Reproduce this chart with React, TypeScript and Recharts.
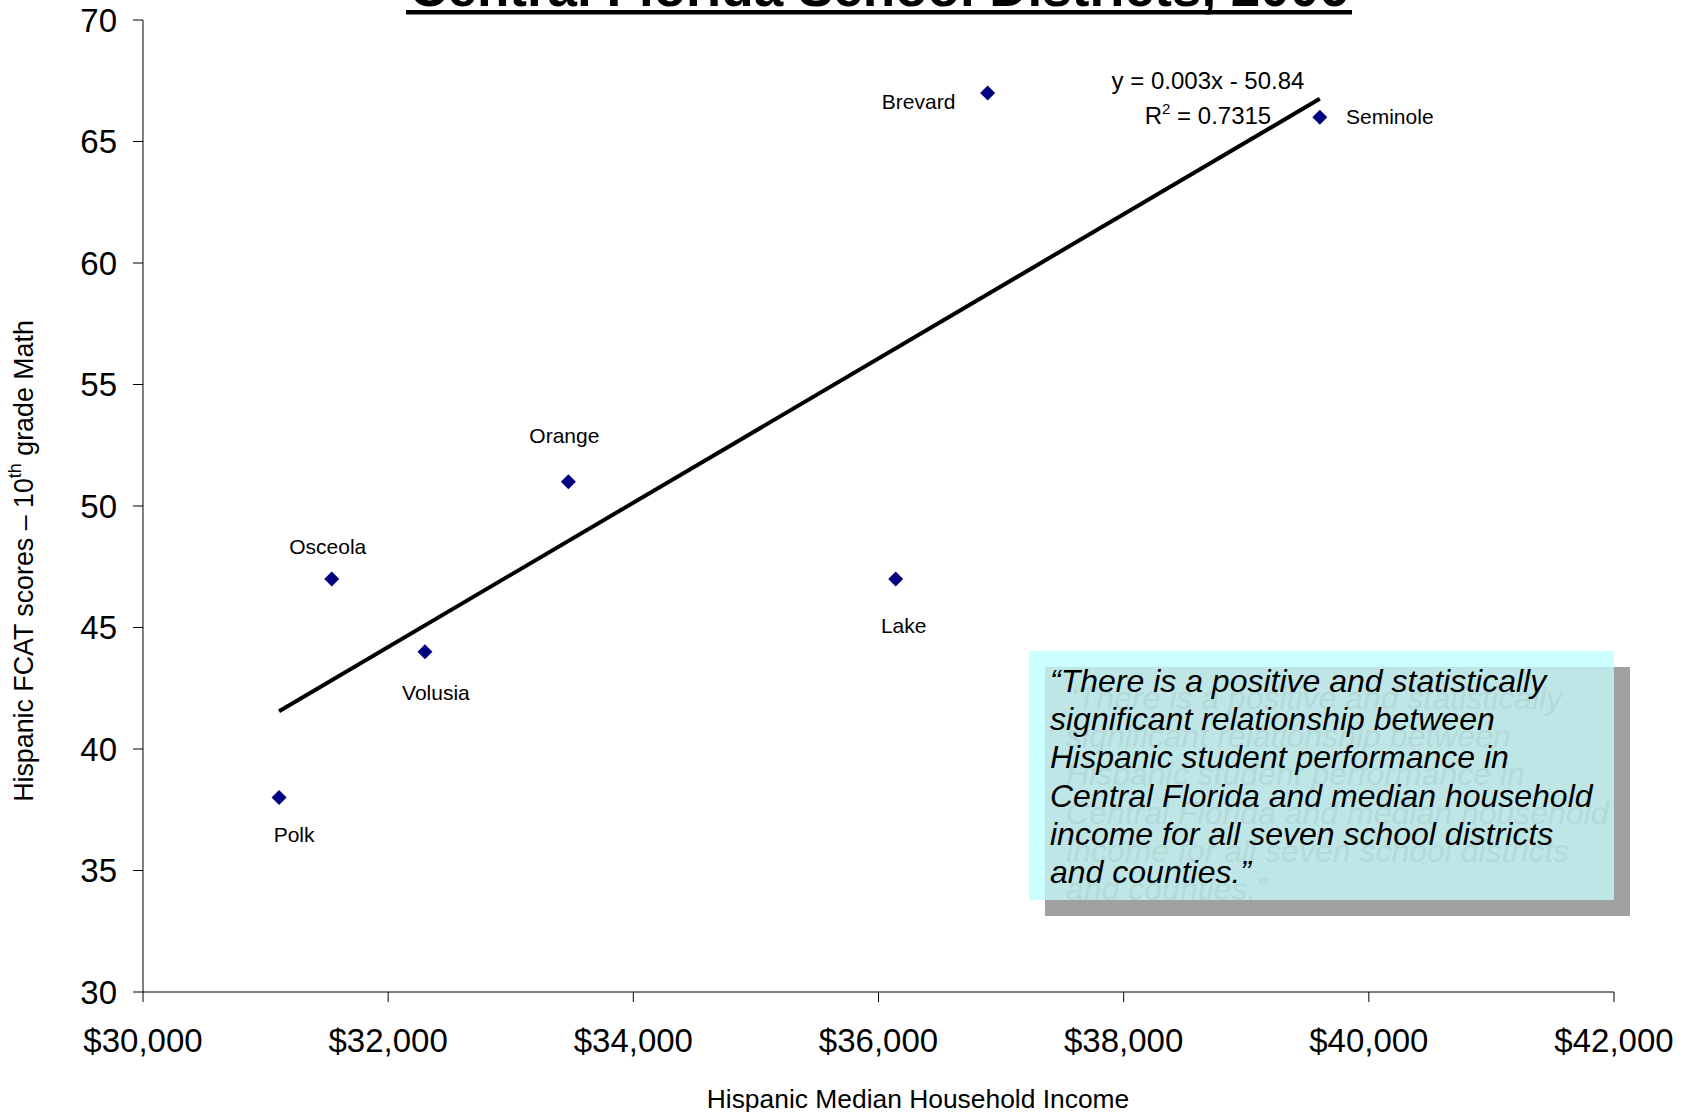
import React from "react";
import { ScatterChart, Scatter, XAxis, YAxis, ReferenceLine } from "recharts";

const FONT = '"Liberation Sans", Arial, Helvetica, sans-serif';

// Districts
const districts = ["Polk", "Osceola", "Volusia", "Orange", "Lake", "Brevard", "Seminole"];
const incomes = [31110, 31540, 32300, 33470, 36140, 36890, 39600];
const mathScores = [38, 47, 44, 51, 47, 67, 66];

const xTicks = [30000, 32000, 34000, 36000, 38000, 40000, 42000];
const yTicks = [30, 35, 40, 45, 50, 55, 60, 65, 70];

const equationText = "y = 0.003x - 50.84";
const rSquaredText = " = 0.7315";

const quoteLines = [
  "\u201cThere is a positive and statistically",
  "significant relationship between",
  "Hispanic student performance in",
  "Central Florida and median household",
  "income for all seven school districts",
  "and counties.\u201d",
];

// where each district name sits relative to its marker
const labelOffsets: Record<string, [number, number]> = {
  Polk: [15, 37],
  Osceola: [-4, -32],
  Volusia: [11, 41],
  Orange: [-4, -46],
  Lake: [8, 47],
  Brevard: [-69, 9],
  Seminole: [70, -1],
};

const points = districts.map((name, i) => ({ name, x: incomes[i], y: mathScores[i] }));

// linear trend (least squares), same as the spreadsheet trendline
const n = points.length;
const meanX = incomes.reduce((a, b) => a + b, 0) / n;
const meanY = mathScores.reduce((a, b) => a + b, 0) / n;
let sxy = 0;
let sxx = 0;
points.forEach((p) => {
  sxy += (p.x - meanX) * (p.y - meanY);
  sxx += (p.x - meanX) * (p.x - meanX);
});
const slope = sxy / sxx;
const intercept = meanY - slope * meanX;
const minX = Math.min(...incomes);
const maxX = Math.max(...incomes);

const fmtDollar = (v: number) => "$" + v.toLocaleString("en-US");

const Diamond = (props: any) => {
  const { cx, cy, payload } = props;
  if (cx == null || cy == null) return null;
  const s = 7.5;
  const off = labelOffsets[payload.name] || [0, -20];
  return (
    <g>
      <polygon
        points={`${cx},${cy - s} ${cx + s},${cy} ${cx},${cy + s} ${cx - s},${cy}`}
        fill="#000080"
      />
      <text
        x={cx + off[0]}
        y={cy + off[1]}
        textAnchor="middle"
        dominantBaseline="central"
        fontSize={21}
        fontFamily={FONT}
        fill="#000"
      >
        {payload.name}
      </text>
    </g>
  );
};

export default function App() {
  const box = { x: 1029, y: 651, w: 585, h: 249 };
  const sh = 16;
  return (
    <div style={{ position: "absolute", top: 0, left: 0, width: 1693, height: 1112, background: "#fff", fontFamily: FONT }}>
      <ScatterChart width={1693} height={1112} margin={{ top: 20, right: 79, bottom: 0, left: 0 }}>
        <XAxis
          type="number"
          dataKey="x"
          domain={[30000, 42000]}
          ticks={xTicks}
          interval={0}
          height={120}
          tickSize={10}
          tickMargin={27}
          axisLine={{ stroke: "#000" }}
          tickLine={{ stroke: "#000" }}
          tick={{ fill: "#000", fontSize: 33, fontFamily: FONT }}
          tickFormatter={fmtDollar}
        />
        <YAxis
          type="number"
          dataKey="y"
          domain={[30, 70]}
          ticks={yTicks}
          interval={0}
          width={143}
          tickSize={10}
          tickMargin={16}
          axisLine={{ stroke: "#000" }}
          tickLine={{ stroke: "#000" }}
          tick={{ fill: "#000", fontSize: 33, fontFamily: FONT }}
        />
        <ReferenceLine
          segment={[
            { x: minX, y: slope * minX + intercept },
            { x: maxX, y: slope * maxX + intercept },
          ]}
          stroke="#000"
          strokeWidth={4}
          ifOverflow="visible"
        />
        <Scatter data={points} shape={<Diamond />} isAnimationActive={false} />
      </ScatterChart>

      {/* title, axis titles, equation and the quote box */}
      <svg
        width={1693}
        height={1112}
        style={{ position: "absolute", top: 0, left: 0, pointerEvents: "none" }}
      >
        <text x={879} y={5.5} textAnchor="middle" fontSize={53} fontWeight="bold" fontFamily={FONT} fill="#000">
          Central Florida School Districts, 2006
        </text>
        <rect x={406} y={10} width={946} height={4.5} fill="#000" />

        <text x={1208} y={89} textAnchor="middle" fontSize={24} fontFamily={FONT} fill="#000">
          {equationText}
        </text>
        <text x={1208} y={124} textAnchor="middle" fontSize={24} fontFamily={FONT} fill="#000">
          R<tspan dy={-10} fontSize={15}>2</tspan>
          <tspan dy={10}>{rSquaredText}</tspan>
        </text>

        <text x={918} y={1108} textAnchor="middle" fontSize={26.4} fontFamily={FONT} fill="#000">
          Hispanic Median Household Income
        </text>
        <text
          x={24}
          y={561}
          transform="rotate(-90 24 561)"
          textAnchor="middle"
          dominantBaseline="central"
          fontSize={26.8}
          fontFamily={FONT}
          fill="#000"
        >
          Hispanic FCAT scores – 10<tspan dy={-9} fontSize={18}>th</tspan>
          <tspan dy={9}> grade Math</tspan>
        </text>

        <defs>
          <clipPath id="overlapClip">
            <rect x={box.x + sh} y={box.y + sh} width={box.w - sh} height={box.h - sh} />
          </clipPath>
        </defs>
        <rect x={box.x + sh} y={box.y + sh} width={box.w} height={box.h} fill="#a0a0a0" />
        <rect x={box.x} y={box.y} width={box.w} height={box.h} fill="#ccffff" />
        <rect x={box.x + sh} y={box.y + sh} width={box.w - sh} height={box.h - sh} fill="#bfe6e6" />
        <g clipPath="url(#overlapClip)">
          {quoteLines.map((l, i) => (
            <text
              key={"g" + i}
              x={1050 + sh}
              y={692 + i * 38.2 + 17}
              fontSize={32}
              fontStyle="italic"
              fontFamily={FONT}
              fill="#b3d9d9"
            >
              {l}
            </text>
          ))}
        </g>
        {quoteLines.map((l, i) => (
          <text key={i} x={1050} y={692 + i * 38.2} fontSize={32} fontStyle="italic" fontFamily={FONT} fill="#000">
            {l}
          </text>
        ))}
      </svg>
    </div>
  );
}
